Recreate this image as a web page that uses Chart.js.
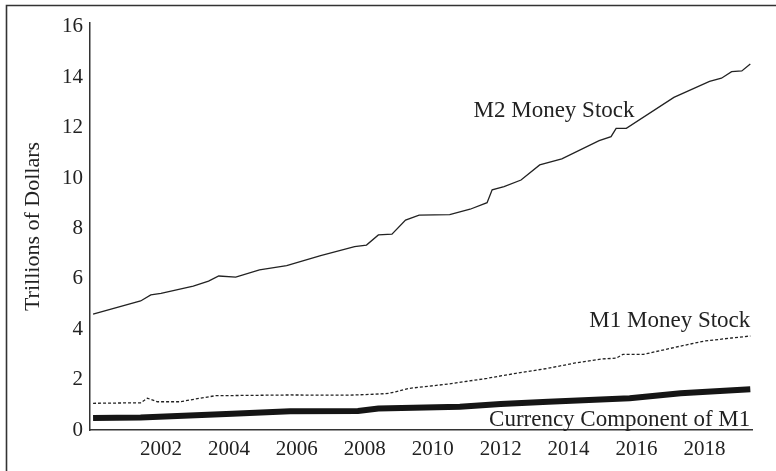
<!DOCTYPE html>
<html>
<head>
<meta charset="utf-8">
<script src="https://cdn.jsdelivr.net/npm/chart.js@4"></script>
<style>
  html, body { margin: 0; padding: 0; background: #fff; }
  canvas { display: block; }
</style>
</head>
<body>
<canvas id="moneyChart" width="776" height="471"></canvas>
<script>
// values (trillions of dollars)
const m2Years = [2000, 2001.4, 2001.7, 2002.0, 2002.95, 2003.4, 2003.7, 2004.2, 2004.9, 2005.7, 2006.7, 2007.7, 2008.05, 2008.4, 2008.8, 2009.2, 2009.6, 2010.5, 2011.1, 2011.6, 2011.75, 2012.1, 2012.6, 2013.15, 2013.8, 2014.9, 2015.25, 2015.4, 2015.7, 2017.1, 2018.15, 2018.5, 2018.8, 2019.1, 2019.35];
const m2Values = [4.6, 5.12, 5.36, 5.42, 5.71, 5.91, 6.11, 6.07, 6.35, 6.52, 6.92, 7.28, 7.34, 7.74, 7.77, 8.33, 8.53, 8.55, 8.76, 9.02, 9.53, 9.66, 9.92, 10.52, 10.76, 11.48, 11.64, 11.97, 11.97, 13.2, 13.83, 13.96, 14.22, 14.25, 14.52];

const m1Years = [2000, 2001.4, 2001.6, 2001.9, 2002.55, 2003.15, 2003.6, 2005.8, 2007.5, 2008.3, 2008.7, 2009.3, 2010.5, 2011.6, 2012.45, 2013.4, 2014.2, 2015.0, 2015.4, 2015.6, 2016.2, 2017.3, 2018.0, 2018.8, 2019.35];
const m1Values = [1.06, 1.08, 1.26, 1.12, 1.12, 1.26, 1.36, 1.39, 1.38, 1.42, 1.45, 1.65, 1.83, 2.05, 2.25, 2.45, 2.66, 2.82, 2.85, 3.0, 3.0, 3.33, 3.53, 3.65, 3.73];

const currYears = [2000, 2001.4, 2004.1, 2005.8, 2007.8, 2008.4, 2010.8, 2012.0, 2013.4, 2015.8, 2017.3, 2019.35];
const currValues = [0.48, 0.5, 0.64, 0.74, 0.75, 0.85, 0.92, 1.03, 1.12, 1.26, 1.46, 1.62];

const xTicks = [2002, 2004, 2006, 2008, 2010, 2012, 2014, 2016, 2018];
const yTicks = [0, 2, 4, 6, 8, 10, 12, 14, 16];

const seriesLabels = ['M2 Money Stock', 'M1 Money Stock', 'Currency Component of M1'];

const FONT = '"Liberation Serif", "Times New Roman", serif';
const INK = '#222';

const toPoints = (xs, ys) => xs.map((x, i) => ({ x, y: ys[i] }));

// frame around the figure (top and left edges visible)
const framePlugin = {
    id: 'frame',
    afterDraw(chart) {
        const ctx = chart.ctx;
        ctx.save();
        ctx.strokeStyle = '#333';
        ctx.lineWidth = 1.6;
        ctx.beginPath();
        ctx.moveTo(6.5, 471);
        ctx.lineTo(6.5, 5.5);
        ctx.lineTo(776, 5.5);
        ctx.stroke();
        ctx.restore();
    }
};

// series names written next to the lines
const labelPlugin = {
    id: 'seriesLabels',
    afterDatasetsDraw(chart) {
        const { ctx, scales: { x, y } } = chart;
        const spots = [
            { text: seriesLabels[0], year: 2015.94, value: 12.42 },
            { text: seriesLabels[1], year: 2019.35, value: 4.09 },
            { text: seriesLabels[2], year: 2019.35, value: 0.15 }
        ];
        ctx.save();
        ctx.fillStyle = INK;
        ctx.font = '23px ' + FONT;
        ctx.textAlign = 'right';
        ctx.textBaseline = 'alphabetic';
        spots.forEach(s => ctx.fillText(s.text, x.getPixelForValue(s.year), y.getPixelForValue(s.value)));
        ctx.restore();
    }
};

new Chart(document.getElementById('moneyChart'), {
    type: 'line',
    data: {
        datasets: [
            {
                label: seriesLabels[0],
                data: toPoints(m2Years, m2Values),
                borderColor: INK,
                borderWidth: 1.3,
                pointRadius: 0,
                tension: 0
            },
            {
                label: seriesLabels[1],
                data: toPoints(m1Years, m1Values),
                borderColor: INK,
                borderWidth: 1.3,
                borderDash: [3, 2],
                pointRadius: 0,
                tension: 0
            },
            {
                label: seriesLabels[2],
                data: toPoints(currYears, currValues),
                borderColor: '#151515',
                borderWidth: 6,
                pointRadius: 0,
                tension: 0
            }
        ]
    },
    options: {
        responsive: false,
        animation: false,
        devicePixelRatio: 1,
        layout: { padding: { top: 23, right: 24, left: 0, bottom: 0 } },
        plugins: {
            legend: { display: false },
            tooltip: { enabled: false }
        },
        scales: {
            x: {
                type: 'linear',
                min: 1999.91,
                max: 2019.4,
                grid: { display: false, drawTicks: false, tickLength: 0 },
                border: { color: '#333', width: 1.5 },
                ticks: { color: INK, font: { family: FONT, size: 21 }, padding: 7, callback: v => String(v) },
                afterBuildTicks: s => { s.ticks = xTicks.map(v => ({ value: v })); },
                afterFit: s => { s.height = 41; }
            },
            y: {
                type: 'linear',
                min: 0,
                max: 16.15,
                grid: { display: false, drawTicks: false, tickLength: 0 },
                border: { color: '#333', width: 1.5 },
                ticks: { color: INK, font: { family: FONT, size: 21 }, padding: 7 },
                afterBuildTicks: s => { s.ticks = yTicks.map(v => ({ value: v })); },
                afterFit: s => { s.width = 90; },
                title: {
                    display: true,
                    text: 'Trillions of Dollars',
                    color: INK,
                    font: { family: FONT, size: 22 },
                    padding: { top: 20, bottom: 0 }
                }
            }
        }
    },
    plugins: [framePlugin, labelPlugin]
});
</script>
</body>
</html>
